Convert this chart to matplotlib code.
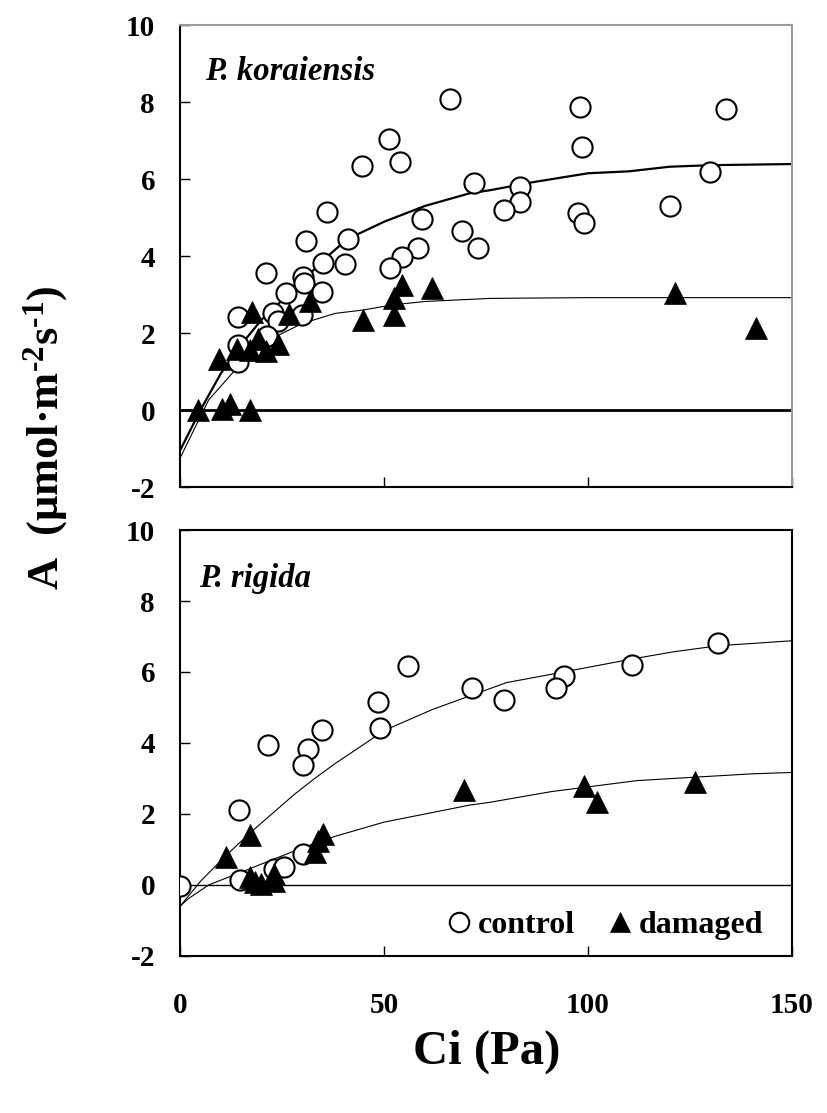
import numpy as np
import matplotlib
matplotlib.use("Agg")
import matplotlib.pyplot as plt
from matplotlib.lines import Line2D

plt.rcParams['font.family'] = ['Liberation Serif', 'DejaVu Serif']
plt.rcParams['font.weight'] = 'bold'
plt.rcParams['axes.unicode_minus'] = False
plt.rcParams['mathtext.fontset'] = 'custom'
plt.rcParams['mathtext.rm'] = 'Liberation Serif:bold'
plt.rcParams['mathtext.bf'] = 'Liberation Serif:bold'
plt.rcParams['mathtext.it'] = 'Liberation Serif:bold:italic'

# P. koraiensis
pk_ctrl_x = [66.2, 51.3, 53.8, 44.5, 72.1, 36.1, 59.2, 69.0, 73.1, 30.9, 41.1, 58.3, 54.5, 35.1,
             40.4, 51.5, 21.1, 30.1, 30.5, 34.7, 26.0, 22.9, 29.8, 24.1, 14.3, 21.2, 14.3, 14.3,
             98.0, 133.8, 98.6, 129.9, 83.3, 83.3, 79.4, 97.6, 99.0, 120.1]
pk_ctrl_y = [8.07, 7.04, 6.45, 6.35, 5.89, 5.15, 4.95, 4.65, 4.22, 4.39, 4.44, 4.22, 3.98, 3.82,
             3.79, 3.68, 3.57, 3.46, 3.29, 3.07, 3.03, 2.51, 2.47, 2.31, 2.42, 1.92, 1.69, 1.26,
             7.86, 7.81, 6.82, 6.19, 5.80, 5.41, 5.19, 5.11, 4.85, 5.31]
pk_dmg_x = [17.6, 9.6, 4.5, 10.2, 12.3, 17.2, 13.9, 17.2, 19.2, 21.0, 24.1, 26.8, 31.9,
            44.8, 52.5, 52.5, 54.5, 61.8, 121.2, 141.2]
pk_dmg_y = [2.55, 1.32, 0.0, 0.02, 0.17, 0.0, 1.58, 1.56, 1.84, 1.53, 1.71, 2.49, 2.84,
            2.34, 2.47, 2.90, 3.25, 3.16, 3.03, 2.12]
pk_ctrl_fit_x = [0, 5, 10, 15, 20, 25, 30, 36, 41, 50, 60, 71, 76, 86, 100, 110, 120, 130, 150]
pk_ctrl_fit_y = [-1.05, 0.0, 0.95, 1.7, 2.35, 2.85, 3.35, 3.98, 4.44, 4.89, 5.3, 5.63, 5.71,
                 5.91, 6.15, 6.2, 6.32, 6.36, 6.39]
pk_dmg_fit_x = [0, 3, 7, 13.5, 19, 25, 30, 38, 45, 52, 60, 76, 100, 150]
pk_dmg_fit_y = [-1.25, -0.6, 0.26, 1.04, 1.64, 1.99, 2.25, 2.51, 2.6, 2.73, 2.82, 2.9, 2.92, 2.92]

# P. rigida
pr_ctrl_x = [55.8, 71.6, 48.6, 49.0, 34.7, 21.5, 31.4, 30.2, 131.9, 110.9, 94.2, 92.2, 79.4,
             14.5, 0.0, 14.6, 23.0, 25.6, 30.2]
pr_ctrl_y = [6.16, 5.54, 5.16, 4.42, 4.37, 3.95, 3.82, 3.38, 6.83, 6.21, 5.90, 5.54, 5.21,
             2.11, -0.02, 0.14, 0.45, 0.52, 0.87]
pr_dmg_x = [17.2, 11.2, 17.2, 18.4, 19.9, 23.0, 23.0, 33.1, 33.9, 35.1, 69.6, 99.1, 102.1, 126.2]
pr_dmg_y = [1.41, 0.78, 0.22, 0.09, 0.03, 0.31, 0.12, 0.92, 1.25, 1.44, 2.68, 2.80, 2.35, 2.91]
pr_ctrl_fit_x = [0, 5, 11, 17, 23, 28, 33, 38, 44, 50, 62, 74, 80, 94, 111, 121, 132, 150]
pr_ctrl_fit_y = [-0.6, 0.1, 0.8, 1.45, 2.05, 2.55, 3.0, 3.42, 3.88, 4.35, 4.95, 5.45, 5.7,
                 6.0, 6.37, 6.57, 6.74, 6.88]
pr_dmg_fit_x = [0, 2, 7, 15, 23, 31, 38, 50, 71, 76, 91, 112, 140, 150]
pr_dmg_fit_y = [-0.6, -0.39, 0.0, 0.36, 0.73, 1.09, 1.37, 1.77, 2.25, 2.33, 2.63, 2.94, 3.13, 3.17]

x_ticks = [0, 50, 100, 150]
y_ticks = [-2, 0, 2, 4, 6, 8, 10]

fig = plt.figure(figsize=(8.27, 11.13), dpi=100)
ax1 = fig.add_axes([0.2177, 0.5624, 0.740, 0.4151])
ax2 = fig.add_axes([0.2177, 0.1411, 0.740, 0.3827])


def style(ax, show_xlabels):
    ax.set_xlim(0, 150)
    ax.set_ylim(-2, 10)
    ax.set_xticks(x_ticks)
    ax.set_yticks(y_ticks)
    ax.tick_params(direction='in', length=7, width=1, labelsize=21, top=False, right=False)
    ax.tick_params(axis='y', pad=18)
    ax.tick_params(axis='x', pad=26)
    if not show_xlabels:
        ax.set_xticklabels([])
    for lab in ax.get_xticklabels() + ax.get_yticklabels():
        lab.set_fontweight('bold')


mk_c = dict(marker='o', ms=14.5, mfc='white', mec='black', mew=1.5, ls='none', zorder=4)
mk_t = dict(marker='^', ms=15.5, mfc='black', mec='black', mew=0.5, ls='none', zorder=5)

# top panel
ax1.axhline(0, color='black', lw=2, zorder=1)
ax1.plot(pk_ctrl_fit_x, pk_ctrl_fit_y, color='black', lw=1.6, zorder=2)
ax1.plot(pk_dmg_fit_x, pk_dmg_fit_y, color='black', lw=0.8, zorder=2)
ax1.plot(pk_ctrl_x, pk_ctrl_y, **mk_c)
ax1.plot(pk_dmg_x, pk_dmg_y, **mk_t)
style(ax1, False)
for s in ['top', 'right']:
    ax1.spines[s].set_color('#999999')
    ax1.spines[s].set_linewidth(1.5)
for s in ['left', 'bottom']:
    ax1.spines[s].set_linewidth(1.5)
ax1.text(0.041, 0.88, 'P. koraiensis', transform=ax1.transAxes, fontsize=23.5,
         fontweight='bold', style='italic')

# bottom panel
ax2.axhline(0, color='black', lw=1, zorder=1)
ax2.plot(pr_ctrl_fit_x, pr_ctrl_fit_y, color='black', lw=0.8, zorder=2)
ax2.plot(pr_dmg_fit_x, pr_dmg_fit_y, color='black', lw=0.8, zorder=2)
ax2.plot(pr_ctrl_x, pr_ctrl_y, **mk_c)
ax2.plot(pr_dmg_x, pr_dmg_y, **mk_t)
style(ax2, True)
for s in ax2.spines.values():
    s.set_linewidth(1.5)
ax2.text(0.031, 0.866, 'P. rigida', transform=ax2.transAxes, fontsize=23.5,
         fontweight='bold', style='italic')

handles = [Line2D([], [], **{**mk_c, 'ms': 14}), Line2D([], [], **{**mk_t, 'ms': 14})]
ax2.legend(handles, ['control', 'damaged'], loc='lower right', ncol=2, frameon=False,
           prop={'size': 23, 'weight': 'bold'}, handlelength=0.6, handletextpad=0.3,
           columnspacing=1.1, bbox_to_anchor=(0.979, 0.0), borderaxespad=0.1)

fig.text(0.055, 0.607, r'A  (μmol·m$^{\text{-2}}$s$^{\text{-1}}$)', rotation=90,
         ha='center', va='center', fontsize=32, fontweight='bold')
fig.text(0.589, 0.055, 'Ci (Pa)', ha='center', va='center', fontsize=35, fontweight='bold')

fig.savefig('out.png', dpi=100)
